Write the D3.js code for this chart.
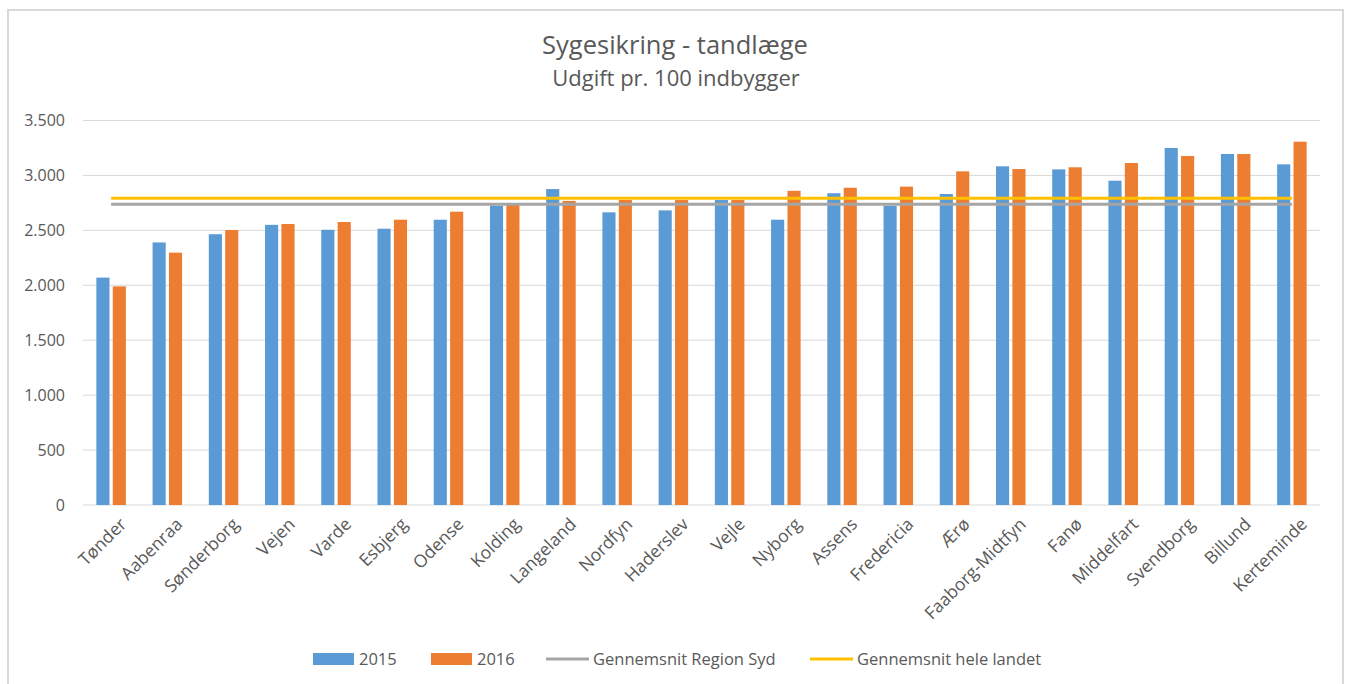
<!DOCTYPE html>
<html>
<head>
<meta charset="utf-8">
<script src="https://cdn.jsdelivr.net/npm/d3@7"></script>
<style>
  body { margin: 0; background: #fff; }
  svg { display: block; font-family: "Open Sans", sans-serif; }
</style>
</head>
<body>
<script>
// data
var categories = ["Tønder", "Aabenraa", "Sønderborg", "Vejen", "Varde", "Esbjerg", "Odense", "Kolding",
    "Langeland", "Nordfyn", "Haderslev", "Vejle", "Nyborg", "Assens", "Fredericia", "Ærø",
    "Faaborg-Midtfyn", "Fanø", "Middelfart", "Svendborg", "Billund", "Kerteminde"];
var values2015 = [2070, 2390, 2465, 2550, 2505, 2515, 2597, 2725, 2876, 2664, 2682, 2776, 2597, 2838,
    2724, 2831, 3083, 3055, 2952, 3250, 3195, 3101];
var values2016 = [1990, 2297, 2503, 2558, 2576, 2597, 2670, 2748, 2768, 2776, 2776, 2776, 2860, 2888,
    2898, 3037, 3058, 3074, 3113, 3177, 3195, 3307];
var regionAvg = 2737;   // Gennemsnit Region Syd
var countryAvg = 2793;  // Gennemsnit hele landet
var yTicks = [0, 500, 1000, 1500, 2000, 2500, 3000, 3500];
var seriesNames = ["2015", "2016"];
var legendLabels = ["2015", "2016", "Gennemsnit Region Syd", "Gennemsnit hele landet"];

var width = 1346, height = 684;
var plotLeft = 83, plotRight = 1320, plotTop = 120.5, plotBottom = 505;
var blue = "#5B9BD5", orange = "#ED7D31", grey = "#A5A5A5", yellow = "#FFC000";
var textColor = "#595959";

var svg = d3.select("body").append("svg")
    .attr("width", width)
    .attr("height", height);

// chart frame
svg.append("rect")
    .attr("x", 8).attr("y", 10)
    .attr("width", 1335).attr("height", 700)
    .attr("fill", "#fff")
    .attr("stroke", "#d9d9d9")
    .attr("stroke-width", 2);

// titles
svg.append("text")
    .attr("x", 675).attr("y", 54)
    .attr("text-anchor", "middle")
    .attr("fill", textColor)
    .style("font-size", "25.5px")
    .text("Sygesikring - tandlæge");
svg.append("text")
    .attr("x", 676).attr("y", 86)
    .attr("text-anchor", "middle")
    .attr("fill", textColor)
    .style("font-size", "22px")
    .text("Udgift pr. 100 indbygger");

//scales
var x0 = d3.scaleBand()
    .domain(categories)
    .range([plotLeft, plotRight])
    .paddingInner(0.475)
    .paddingOuter(0.2375);
var x1 = d3.scaleBand()
    .domain(seriesNames)
    .range([0, x0.bandwidth()])
    .paddingInner(0.2);
var y = d3.scaleLinear()
    .domain([0, 3500])
    .range([plotBottom, plotTop]);

var fmt = d3.formatLocale({ decimal: ",", thousands: ".", grouping: [3], currency: ["", " kr."] }).format(",");

// gridlines
svg.append("g").selectAll("line")
    .data(yTicks)
    .enter().append("line")
    .attr("x1", plotLeft).attr("x2", plotRight)
    .attr("y1", function (d) { return y(d); })
    .attr("y2", function (d) { return y(d); })
    .attr("stroke", "#d9d9d9")
    .attr("stroke-width", 1);

// y axis labels
var yAxis = svg.append("g")
    .attr("transform", "translate(" + (plotLeft - 18) + ",0)")
    .call(d3.axisLeft(y).tickValues(yTicks).tickFormat(fmt).tickSize(0).tickPadding(0));
yAxis.select(".domain").remove();
yAxis.selectAll("text")
    .attr("fill", textColor)
    .style("font-size", "16px")
    .style("font-family", "\"Open Sans\", sans-serif");

// bars
var rows = categories.map(function (c, i) {
    return { cat: c, vals: [{ s: "2015", v: values2015[i] }, { s: "2016", v: values2016[i] }] };
});
var groups = svg.append("g").selectAll("g")
    .data(rows)
    .enter().append("g")
    .attr("transform", function (d) { return "translate(" + x0(d.cat) + ",0)"; });
groups.selectAll("rect")
    .data(function (d) { return d.vals; })
    .enter().append("rect")
    .attr("x", function (d) { return x1(d.s); })
    .attr("width", x1.bandwidth())
    .attr("y", function (d) { return y(d.v); })
    .attr("height", function (d) { return plotBottom - y(d.v); })
    .attr("fill", function (d) { return d.s === "2015" ? blue : orange; });

// average lines (constant across categories)
var line = d3.line()
    .x(function (d) { return x0(d) + x0.bandwidth() / 2; });
svg.append("path")
    .datum(categories)
    .attr("d", line.y(function () { return y(regionAvg); }))
    .attr("fill", "none")
    .attr("stroke", grey)
    .attr("stroke-width", 3);
svg.append("path")
    .datum(categories)
    .attr("d", line.y(function () { return y(countryAvg); }))
    .attr("fill", "none")
    .attr("stroke", yellow)
    .attr("stroke-width", 3);

// category labels
svg.append("g").selectAll("text")
    .data(categories)
    .enter().append("text")
    .attr("transform", function (d) {
        return "translate(" + (x0(d) + x0.bandwidth() / 2 + 12) + "," + 521 + ") rotate(-45)";
    })
    .attr("text-anchor", "end")
    .attr("dy", "0.35em")
    .attr("fill", textColor)
    .style("font-size", "17.5px")
    .text(function (d) { return d; });

// legend
var legendItems = [
    { label: legendLabels[0], color: blue, kind: "rect", x: 313 },
    { label: legendLabels[1], color: orange, kind: "rect", x: 431 },
    { label: legendLabels[2], color: grey, kind: "line", x: 546 },
    { label: legendLabels[3], color: yellow, kind: "line", x: 810 }
];
var legendY = 659;
var legend = svg.append("g").selectAll("g")
    .data(legendItems)
    .enter().append("g")
    .attr("transform", function (d) { return "translate(" + d.x + "," + legendY + ")"; });
legend.filter(function (d) { return d.kind === "rect"; })
    .append("rect")
    .attr("x", 0).attr("y", -6)
    .attr("width", 41).attr("height", 12)
    .attr("fill", function (d) { return d.color; });
legend.filter(function (d) { return d.kind === "line"; })
    .append("line")
    .attr("x1", 0).attr("x2", 43)
    .attr("y1", 0).attr("y2", 0)
    .attr("stroke", function (d) { return d.color; })
    .attr("stroke-width", 3);
legend.append("text")
    .attr("x", function (d) { return d.kind === "rect" ? 46 : 47; })
    .attr("dy", "0.35em")
    .attr("fill", textColor)
    .style("font-size", "16.5px")
    .text(function (d) { return d.label; });
</script>
</body>
</html>
